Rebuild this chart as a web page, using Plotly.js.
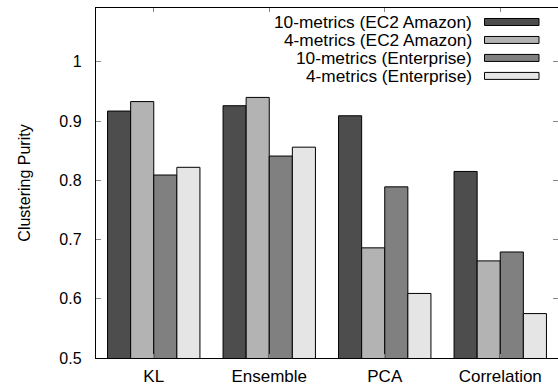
<!DOCTYPE html>
<html>
<head>
<meta charset="utf-8">
<script src="https://cdn.plot.ly/plotly-3.0.1.min.js"></script>
<style>html,body{margin:0;padding:0;background:#fff;}#chart{width:558px;height:385px;}</style>
</head>
<body>
<div id="chart"></div>
<script>
const categories = ["KL", "Ensemble", "PCA", "Correlation"];
const seriesNames = ["10-metrics (EC2 Amazon)", "4-metrics (EC2 Amazon)", "10-metrics (Enterprise)", "4-metrics (Enterprise)"];
const ec2_10 = [0.917, 0.926, 0.909, 0.815];
const ec2_4 = [0.933, 0.940, 0.686, 0.664];
const ent_10 = [0.809, 0.841, 0.789, 0.679];
const ent_4 = [0.822, 0.856, 0.609, 0.575];
const colors = ["#4d4d4d", "#b3b3b3", "#808080", "#e5e5e5"];

const allSeries = [ec2_10, ec2_4, ent_10, ent_4];
const font = "'Liberation Sans', Arial, Helvetica, sans-serif";

const traces = allSeries.map((vals, i) => ({
  type: "bar",
  x: categories,
  y: vals,
  name: seriesNames[i],
  marker: {color: colors[i], line: {color: "#000", width: 1}},
  showlegend: false,
  hoverinfo: "skip"
}));

// custom legend: text right-aligned, key box to the right
const annotations = [];
const shapes = [];
const rowH = 18, firstY = 22;
seriesNames.forEach((n, i) => {
  const yc = firstY + i * rowH;
  annotations.push({
    xref: "paper", yref: "paper",
    x: (474 - 96) / 462, y: 1 - (yc - 8) / 350.5,
    xanchor: "right", yanchor: "middle",
    text: n, showarrow: false,
    font: {family: font, size: 17.3, color: "#000"}
  });
  shapes.push({
    type: "rect", xref: "paper", yref: "paper",
    x0: (484.5 - 96) / 462, x1: (539 - 96) / 462,
    y0: 1 - (yc - 3.5 - 8) / 350.5, y1: 1 - (yc + 3.5 - 8) / 350.5,
    fillcolor: colors[i], line: {color: "#000", width: 1}
  });
});

const layout = {
  width: 558, height: 385,
  margin: {l: 96, r: 0, t: 8, b: 26.5, pad: 0},
  paper_bgcolor: "#fff", plot_bgcolor: "#fff",
  barmode: "group", bargap: 0.2, bargroupgap: 0,
  font: {family: font, size: 16, color: "#000"},
  xaxis: {
    range: [-0.5, 3.5], showline: true, linecolor: "#000", linewidth: 1.2,
    mirror: "ticks", ticks: "inside", ticklen: 4, tickcolor: "#888",
    showgrid: false, zeroline: false, ticklabelstandoff: 2,
    tickfont: {family: font, size: 17, color: "#000"}
  },
  yaxis: {
    range: [0.5, 1.091], dtick: 0.1, tick0: 0.5,
    showline: true, linecolor: "#000", linewidth: 1.2,
    mirror: "ticks", ticks: "inside", ticklen: 5, tickcolor: "#888",
    showgrid: false, zeroline: false, ticklabelstandoff: 10,
    tickfont: {family: font, size: 16, color: "#000"},
    title: {text: "Clustering Purity", standoff: 24, font: {family: font, size: 16, color: "#000"}}
  },
  annotations: annotations,
  shapes: shapes
};

Plotly.newPlot("chart", traces, layout, {displayModeBar: false, staticPlot: true});
</script>
</body>
</html>
